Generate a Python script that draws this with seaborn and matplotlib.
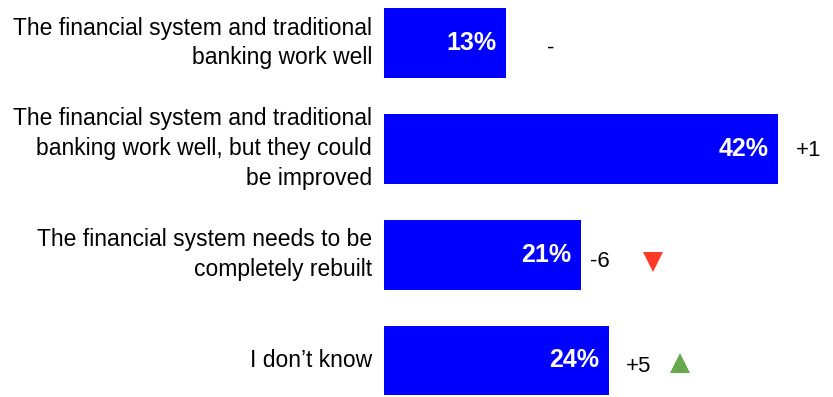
import matplotlib
matplotlib.use("Agg")
import matplotlib.pyplot as plt
import seaborn as sns
import pandas as pd

# Survey answers and shares
categories = [
    "The financial system and traditional\nbanking work well",
    "The financial system and traditional\nbanking work well, but they could\nbe improved",
    "The financial system needs to be\ncompletely rebuilt",
    "I don\u2019t know",
]
shares = [13, 42, 21, 24]
changes = ["-", "+1", "-6", "+5"]
trend = [None, None, "down", "up"]

df = pd.DataFrame({"answer": categories, "share": shares})

sns.set_theme(style="white")
plt.rcParams["font.family"] = ["Liberation Sans", "DejaVu Sans"]

fig = plt.figure(figsize=(8.33, 3.97), dpi=100)
ax = fig.add_axes([384 / 833, 0, 450 / 833, 1])

sns.barplot(data=df, x="share", y="answer", orient="h", color="#0000FF",
            saturation=1, width=0.66, linewidth=0, ax=ax)

px_per_unit = 9.38
ax.set_xlim(0, 450 / px_per_unit)
ax.set_ylim(3 + (397 - 360.5) / 105.8, -43 / 105.8)

# Value labels inside the bars
for i, v in enumerate(shares):
    ax.annotate(f"{v}%", xy=(v, i), xytext=(-7, 0), textcoords="offset points",
                ha="right", va="center", color="white", fontsize=18,
                fontweight="bold")

# Change versus previous wave, placed right of each bar
change_gap = [4.8, 1.9, 1.0, 1.8]
change_dy = [0.05, 0.02, 0.06, 0.06]
change_ha = ["center", "left", "left", "left"]
for i, (v, c) in enumerate(zip(shares, changes)):
    ax.text(v + change_gap[i], i + change_dy[i], c, ha=change_ha[i],
            va="center", fontsize=16, color="black")

# Trend arrows
arrow_x = [None, None, 28.7, 31.6]
for i, t in enumerate(trend):
    if t == "down":
        ax.plot(arrow_x[i], i + 0.07, marker="v", markersize=14,
                color="#FF3B27", markeredgewidth=0)
    elif t == "up":
        ax.plot(arrow_x[i], i + 0.02, marker="^", markersize=14,
                color="#6AA84F", markeredgewidth=0)

ax.set_xlabel("")
ax.set_ylabel("")
ax.set_xticks([])
ax.tick_params(axis="y", length=0, pad=8.5, labelsize=16.5, labelcolor="black")
for lbl in ax.get_yticklabels():
    lbl.set_horizontalalignment("right")
    lbl.set_verticalalignment("center")
    lbl.set_multialignment("right")
    lbl.set_linespacing(1.38)
for s in ax.spines.values():
    s.set_visible(False)

fig.savefig("out.png", dpi=100, facecolor="white")
